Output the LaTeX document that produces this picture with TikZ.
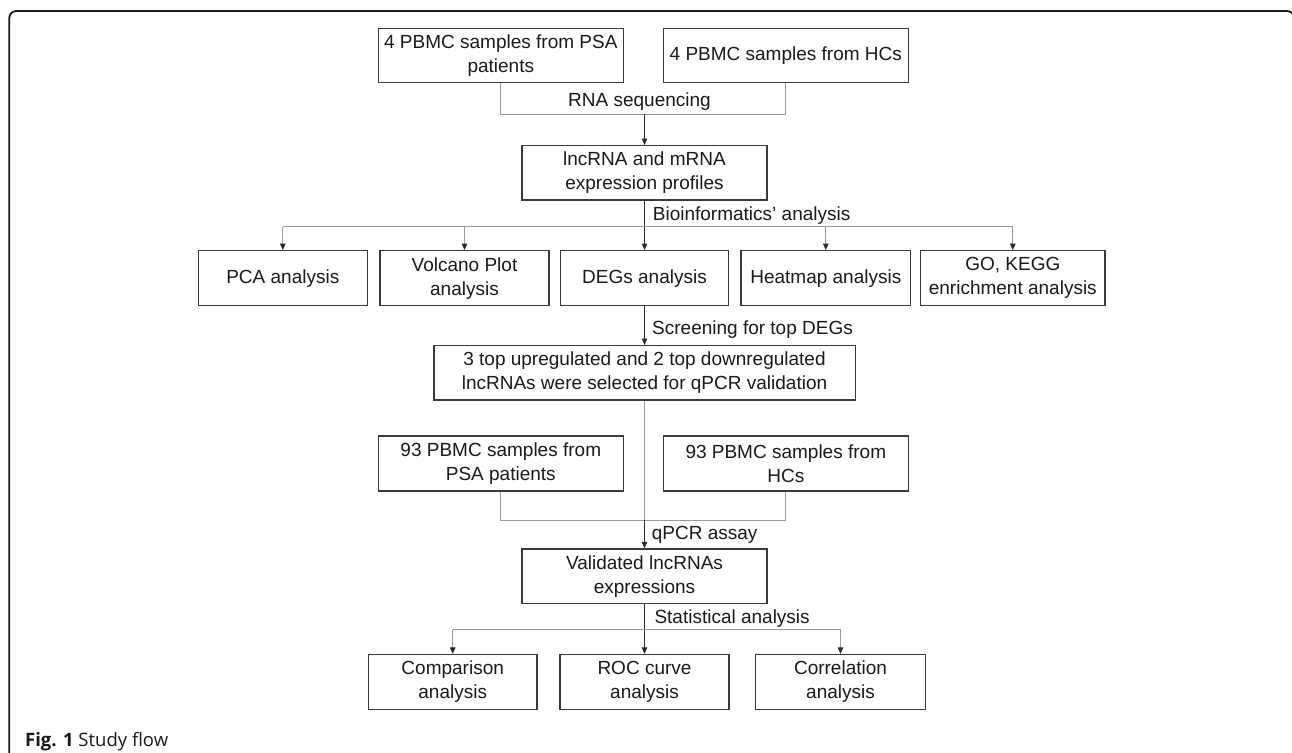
\documentclass[tikz,border=0pt]{standalone}
\usepackage{fontspec}
\setmainfont{Liberation Sans}
\newfontfamily\capfont{Open Sans}
\usetikzlibrary{arrows.meta}
\definecolor{boxline}{HTML}{3A3A3A}
\definecolor{txt}{HTML}{1A1A1A}
\definecolor{lgray}{HTML}{9A9A9A}
\definecolor{dline}{HTML}{2A2A2A}
\begin{document}
\begin{tikzpicture}[x=1pt,y=-1pt,
  bx/.style={draw=boxline, line width=1.3pt, text=txt, inner sep=0pt, align=center, font=\fontsize{19}{24}\selectfont},
  lbl/.style={text=txt, inner sep=0pt, font=\fontsize{19}{24}\selectfont},
  gl/.style={draw=lgray, line width=1.1pt},
  dl/.style={draw=dline, line width=1.1pt},
  arr/.style={-{Triangle[length=6.5pt,width=5.5pt,color=dline]}}
]
\useasboundingbox (0,0) rectangle (1292,752);
\fill[white] (0,0) rectangle (1292,752);
% frame
\draw[line width=1.8pt, draw=black!90, rounded corners=7pt] (9.3,770) -- (9.3,11) -- (1294,11) -- (1294,770);

% top boxes
\node[bx, minimum width=245pt, minimum height=54pt] (psa1) at (500.8,55.3) {4 PBMC samples from PSA\\patients};
\node[bx, minimum width=245pt, minimum height=54pt] (hc1) at (785.8,55.3) {4 PBMC samples from HCs};
\node[bx, minimum width=245pt, minimum height=54.3pt] (lnc) at (644.5,172.8) {lncRNA and mRNA\\expression profiles};

% row of analyses
\node[bx, minimum width=169pt, minimum height=55pt] (pca) at (282.8,278.2) {PCA analysis};
\node[bx, minimum width=169pt, minimum height=55pt] (vol) at (464.5,278.2) {Volcano Plot\\analysis};
\node[bx, minimum width=168.3pt, minimum height=55pt] (degs) at (644.5,278.2) {DEGs analysis};
\node[bx, minimum width=169.7pt, minimum height=55pt] (heat) at (825.8,278.2) {Heatmap analysis};
\node[bx, minimum width=184.3pt, minimum height=55pt] (go) at (1012.8,278.2) {GO, KEGG\\enrichment analysis};

% selection
\node[bx, minimum width=421.3pt, minimum height=54.3pt] (sel) at (644.5,372.8) {3 top upregulated and 2 top downregulated\\lncRNAs were selected for qPCR validation};

% validation samples
\node[bx, minimum width=245pt, minimum height=55pt] (psa2) at (500.8,463.5) {93 PBMC samples from\\PSA patients};
\node[bx, minimum width=245pt, minimum height=55pt] (hc2) at (785.8,463.5) {93 PBMC samples from\\HCs};
\node[bx, minimum width=245pt, minimum height=54.7pt] (val) at (644.5,576.3) {Validated lncRNAs\\expressions};

% bottom row
\node[bx, minimum width=168.7pt, minimum height=55pt] (cmp) at (452.7,682) {Comparison\\analysis};
\node[bx, minimum width=169pt, minimum height=55pt] (roc) at (644.5,682) {ROC curve\\analysis};
\node[bx, minimum width=169.6pt, minimum height=55pt] (cor) at (840.5,682) {Correlation\\analysis};

% connectors: RNA sequencing
\coordinate (m1) at (644.5,114.3);
\draw[gl] (psa1.south) |- (m1) -| (hc1.south);
\draw[dl,arr] (m1) -- (lnc.north);

% bioinformatics
\coordinate (b1) at (644.5,226.7);
\draw[dl] (lnc.south) -- (b1);
\draw[gl] (pca.north |- b1) -- (go.north |- b1);
\draw[gl,arr] (pca.north |- b1) -- (pca.north);
\draw[gl,arr] (vol.north |- b1) -- (vol.north);
\draw[dl,arr] (b1) -- (degs.north);
\draw[gl,arr] (heat.north |- b1) -- (heat.north);
\draw[gl,arr] (go.north |- b1) -- (go.north);

% screening
\draw[dl,arr] (degs.south) -- (sel.north);

% qPCR
\coordinate (m2) at (644.5,520.3);
\draw[gl] (sel.south) -- (m2);
\draw[gl] (psa2.south) |- (m2) -| (hc2.south);
\draw[dl,arr] (m2) -- (val.north);

% statistical
\coordinate (s1) at (644.5,629.7);
\draw[dl] (val.south) -- (s1);
\draw[gl] (cmp.north |- s1) -- (cor.north |- s1);
\draw[gl,arr] (cmp.north |- s1) -- (cmp.north);
\draw[dl,arr] (s1) -- (roc.north);
\draw[gl,arr] (cor.north |- s1) -- (cor.north);

% labels
\node[lbl, anchor=base] (lrna) at (639.5,106.7) {RNA sequencing};
\node[lbl, anchor=base west] (lbio) at (652.7,220) {Bioinformatics’ analysis};
\node[lbl, anchor=base west] (lscr) at (652,334) {Screening for top DEGs};
\node[lbl, anchor=base west] (lqpcr) at (651.7,539) {qPCR assay};
\node[lbl, anchor=base west] (lstat) at (654.3,623.3) {Statistical analysis};

% caption
\node[anchor=base west, inner sep=0pt, text=txt, font=\capfont\fontsize{18.5}{21}\selectfont] (cap) at (25,746) {\textbf{Fig. 1} Study flow};
\end{tikzpicture}
\end{document}
